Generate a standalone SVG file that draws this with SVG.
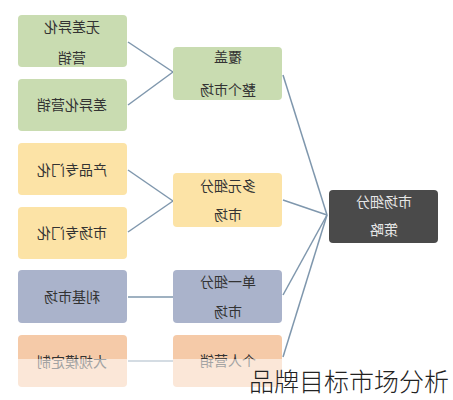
<svg xmlns="http://www.w3.org/2000/svg" width="453" height="400" viewBox="0 0 453 400">
<style>
.box{stroke:none}
.g{fill:#c9dcb1}
.y{fill:#fce3a6}
.b{fill:#aab3cb}
.p{fill:#f5caa8}
.d{fill:#4a4a4a}
.t{font-family:"Noto Sans CJK SC","Noto Sans",sans-serif;font-size:14px;fill:#333;text-anchor:middle}
.tl{fill:#e6e6e6}
.ln{stroke:#7f97ad;stroke-width:1.5;fill:none}
.cap{font-family:"Noto Sans CJK SC","Noto Sans",sans-serif;font-size:25px;font-weight:300;fill:#222}
</style>
<rect width="453" height="400" fill="#ffffff"/>
<g id="connectors">
<line class="ln" x1="128" y1="42" x2="173" y2="72"/>
<line class="ln" x1="128" y1="105" x2="173" y2="72"/>
<line class="ln" x1="128" y1="170" x2="173" y2="201"/>
<line class="ln" x1="128" y1="232" x2="173" y2="201"/>
<line class="ln" x1="128" y1="297" x2="173" y2="297"/>
<line class="ln" x1="128" y1="361" x2="173" y2="361"/>
<line class="ln" x1="283" y1="75" x2="327" y2="215"/>
<line class="ln" x1="283" y1="200" x2="327" y2="215"/>
<line class="ln" x1="283" y1="295" x2="327" y2="215"/>
<line class="ln" x1="283" y1="357" x2="327" y2="215"/>
</g>
<g id="n1"><rect class="box g" x="18" y="15" width="109" height="52" rx="4"/>
<text class="t" transform="scale(-1,1)" x="-72" y="32">无差异化</text>
<text class="t" transform="scale(-1,1)" x="-72" y="63">营销</text></g>
<g id="n2"><rect class="box g" x="18" y="79" width="109" height="52" rx="4"/>
<text class="t" transform="scale(-1,1)" x="-72" y="110">差异化营销</text></g>
<g id="n3"><rect class="box y" x="18" y="143" width="109" height="52" rx="4"/>
<text class="t" transform="scale(-1,1)" x="-72" y="175">产品专门化</text></g>
<g id="n4"><rect class="box y" x="18" y="207" width="109" height="52" rx="4"/>
<text class="t" transform="scale(-1,1)" x="-72" y="238">市场专门化</text></g>
<g id="n5"><rect class="box b" x="18" y="270" width="109" height="53" rx="4"/>
<text class="t" transform="scale(-1,1)" x="-72" y="302">利基市场</text></g>
<g id="n6"><rect class="box p" x="18" y="335" width="109" height="52" rx="4"/>
<text class="t" transform="scale(-1,1)" x="-72" y="367">大规模定制</text></g>
<g id="m1"><rect class="box g" x="173" y="47" width="109" height="53" rx="4"/>
<text class="t" transform="scale(-1,1)" x="-228" y="62">覆盖</text>
<text class="t" transform="scale(-1,1)" x="-228" y="95">整个市场</text></g>
<g id="m2"><rect class="box y" x="173" y="173" width="109" height="54" rx="4"/>
<text class="t" transform="scale(-1,1)" x="-228" y="191">多元细分</text>
<text class="t" transform="scale(-1,1)" x="-228" y="220">市场</text></g>
<g id="m3"><rect class="box b" x="173" y="270" width="109" height="53" rx="4"/>
<text class="t" transform="scale(-1,1)" x="-228" y="287">单一细分</text>
<text class="t" transform="scale(-1,1)" x="-228" y="317">市场</text></g>
<g id="m4"><rect class="box p" x="173" y="335" width="109" height="52" rx="4"/>
<text class="t" transform="scale(-1,1)" x="-228" y="366">个人营销</text></g>
<g id="root"><rect class="box d" x="329" y="190" width="109" height="53" rx="4"/>
<text class="t tl" transform="scale(-1,1)" x="-384" y="207">市场细分</text>
<text class="t tl" transform="scale(-1,1)" x="-384" y="235">策略</text></g>
<rect x="0" y="359" width="453" height="31" fill="#ffffff" fill-opacity="0.55"/>
<text class="cap" x="249" y="391">品牌目标市场分析</text>
</svg>
